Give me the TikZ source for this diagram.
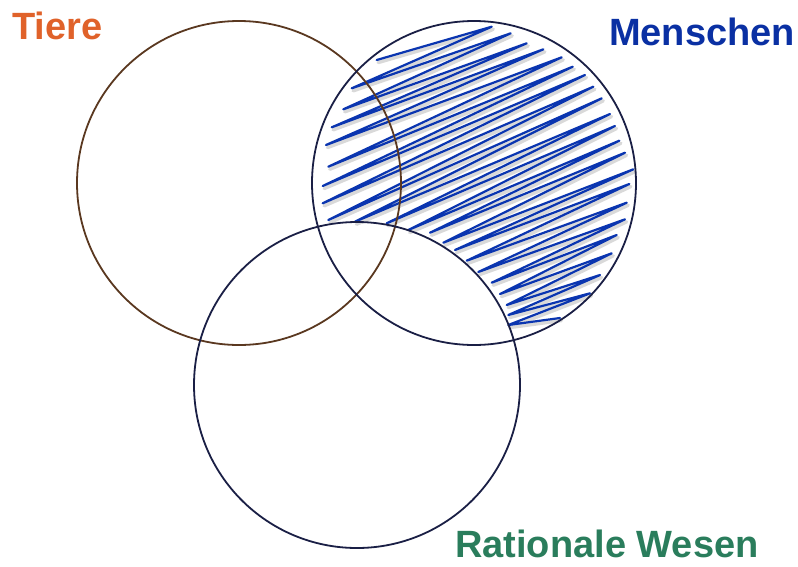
\documentclass[tikz,border=0pt]{standalone}
\usepackage{fontspec}
\setmainfont{Liberation Sans}
\definecolor{tierec}{HTML}{E0622A}
\definecolor{menschc}{HTML}{0A30A3}
\definecolor{ratc}{HTML}{2A7D5C}
\definecolor{brownc}{HTML}{5A3820}
\definecolor{navyc}{HTML}{1A1F45}
\definecolor{hatchc}{HTML}{0A35B0}
\tikzset{
  setcircle/.style={circle, draw, line width=1.8pt, inner sep=0pt},
  setlabel/.style={font=\bfseries\fontsize{38}{40}\selectfont, anchor=base west, inner sep=0pt},
  hatchline/.style={line width=2.2pt, line join=round, line cap=round}
}
\begin{document}
\begin{tikzpicture}[x=1pt,y=-1pt]
\useasboundingbox (0,0) rectangle (798,566);
\def\scribble{(376.7,60) -- (491.7,26.7) -- (351.7,88.3) -- (510.7,33.3) -- (343.3,109.3) -- (526.7,43.3) -- (331.7,127.3) -- (543.3,49.3) -- (326,145) -- (561.7,57.3) -- (328.3,166.7) -- (572.7,66.7) -- (322.7,186) -- (585,75) -- (322.7,203.3) -- (593.3,86.7) -- (328.3,220) -- (601.7,98.3) -- (355,221.7) -- (610,114) -- (386.7,223.3) -- (615,126) -- (408.3,230) -- (619.3,140.7) -- (430,232.7) -- (625,152.7) -- (443.3,242.7) -- (633.3,169.3) -- (455,250) -- (629.3,184) -- (466.7,260.7) -- (626.7,202.7) -- (478.3,272) -- (625,219.3) -- (491.7,282.7) -- (616.7,235) -- (500,294) -- (611.7,253.3) -- (506.7,305) -- (600,275) -- (508.3,315) -- (590,293.3) -- (508.3,325) -- (560,318)}
% shadow of the scribble
\begin{scope}[shift={(1.5,2.5)}]
\draw[hatchline, black, opacity=0.15, line width=3.5pt] \scribble;
\end{scope}
\draw[hatchline, hatchc] \scribble;
\node[setcircle, draw=brownc, minimum size=324pt] (tiere) at (239,183) {};
\node[setcircle, draw=navyc, minimum size=324pt] (menschen) at (474,183) {};
\node[setcircle, draw=navyc, minimum size=326pt] (rational) at (357,385) {};
\node[setlabel, text=tierec] (ltiere) at (12,39) {Tiere};
\node[setlabel, text=menschc] (lmenschen) at (609,45) {Menschen};
\node[setlabel, text=ratc] (lrational) at (455,557) {Rationale Wesen};
\end{tikzpicture}
\end{document}
